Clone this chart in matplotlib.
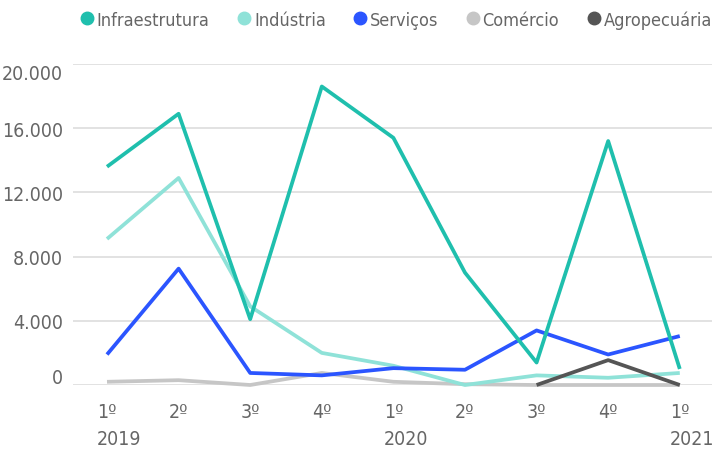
import matplotlib.pyplot as plt
import matplotlib.transforms as mtransforms
from matplotlib.lines import Line2D

plt.rcParams['font.family'] = ['DejaVu Sans']
plt.rcParams['font.stretch'] = 'condensed'

# dados
quarters = ['1º', '2º', '3º', '4º', '1º', '2º', '3º', '4º', '1º']
years = {0: '2019', 4: '2020', 8: '2021'}
infra = [13600, 16900, 4100, 18600, 15400, 7000, 1400, 15200, 1000]
industria = [9100, 12900, 4900, 2000, 1200, 0, 600, 450, 750]
servicos = [1900, 7250, 750, 600, 1050, 950, 3400, 1900, 3050]
comercio = [200, 300, 0, 750, 200, 50, 0, 0, 0]
agro_x = [6, 7, 8]
agro = [0, 1550, 0]

names = ['Infraestrutura', 'Indústria', 'Serviços', 'Comércio', 'Agropecuária']
colors = ['#1fbfad', '#8fe2d8', '#2b55ff', '#c6c6c6', '#555555']

x = list(range(len(quarters)))
fig = plt.figure(figsize=(7.14, 4.52), dpi=100)
ax = fig.add_axes([73/714, 66/452, 639/714, 321/452])

series = [(x, comercio), (x, industria), (x, servicos), (x, infra), (agro_x, agro)]
order = [3, 1, 2, 0, 4]
for (xs, ys), i in zip(series, order):
    ax.plot(xs, ys, color=colors[i], lw=2.7, solid_capstyle='butt', clip_on=False, zorder=3)

ax.set_xlim(-0.475, 8.45)
ax.set_ylim(0, 20000)
yt = [0, 4000, 8000, 12000, 16000, 20000]
ax.set_yticks(yt)
ax.set_yticklabels([f'{v:,}'.replace(',', '.') for v in yt])
ax.set_xticks(x)
ax.set_xticklabels(quarters)
ax.grid(axis='y', color='#dddddd', lw=1.2)
ax.set_axisbelow(True)
for s in ax.spines.values():
    s.set_visible(False)
ax.tick_params(length=0, labelsize=14, labelcolor='#666666')
ax.tick_params(axis='y', pad=7)
ax.tick_params(axis='x', pad=12)

ylabs = ax.get_yticklabels()
ylabs[0].set_transform(ylabs[0].get_transform() + mtransforms.ScaledTranslation(0, 9/100, fig.dpi_scale_trans))
ylabs[-1].set_transform(ylabs[-1].get_transform() + mtransforms.ScaledTranslation(0, -8/100, fig.dpi_scale_trans))

for i, yr in years.items():
    ax.text(i - 0.14, -0.168, yr, transform=ax.get_xaxis_transform(), ha='left', va='center',
            fontsize=14, color='#666666')

handles = [Line2D([], [], marker='o', ls='', color=c, markersize=9) for c in colors]
fig.legend(handles, names, loc='center', bbox_to_anchor=(0.553, 0.955), ncol=5, frameon=False,
           fontsize=13, labelcolor='#666666', handletextpad=0.05, columnspacing=1.4,
           handlelength=1.0)

fig.savefig('out.png', dpi=100)
